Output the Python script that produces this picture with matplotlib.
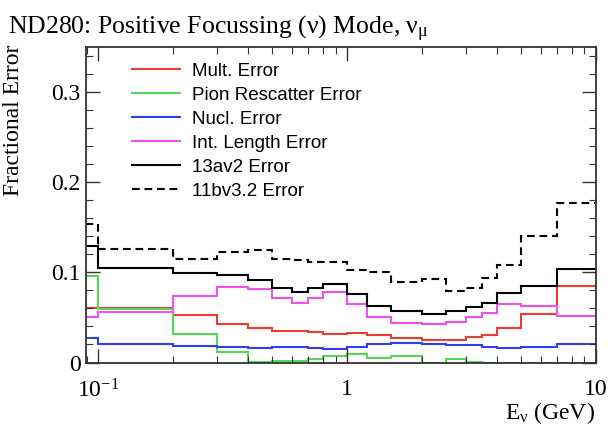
import numpy as np
import matplotlib
matplotlib.use("Agg")
from matplotlib import pyplot as plt
from matplotlib.ticker import FixedLocator, LogLocator, NullFormatter, FixedFormatter

# energy bin edges in GeV (first bin really starts at 0, cut off by the log axis)
edges = [0.05, 0.1, 0.2, 0.3, 0.4, 0.5, 0.6, 0.7, 0.8, 1.0, 1.2,
         1.5, 2.0, 2.5, 3.0, 3.5, 4.0, 5.0, 7.0, 10.0]

mult_err = [0.061, 0.061, 0.0524, 0.0431, 0.0387, 0.0354, 0.035, 0.0335, 0.032, 0.0328,
            0.0302, 0.0276, 0.0254, 0.025, 0.0281, 0.0309, 0.0383, 0.0539, 0.0854]
pion_err = [0.0955, 0.059, 0.0313, 0.0115, 0.0002, 0.0015, 0.0012, 0.0035, 0.0068, 0.0092,
            0.0054, 0.0076, 0.0, 0.0043, 0.001, 0.0, 0.0, 0.0, 0.0]
nucl_err = [0.0272, 0.0202, 0.0183, 0.0172, 0.0161, 0.0172, 0.0172, 0.0161, 0.0145, 0.0176,
            0.0209, 0.022, 0.0209, 0.0198, 0.0195, 0.0168, 0.0161, 0.0176, 0.0209]
intlen_err = [0.050, 0.0565, 0.0742, 0.0835, 0.0813, 0.072, 0.0665, 0.072, 0.0783, 0.065,
              0.0509, 0.0435, 0.0424, 0.0446, 0.0502, 0.0546, 0.0646, 0.0624, 0.052]
tot_13av2 = [0.1287, 0.1047, 0.0998, 0.0972, 0.0917, 0.0831, 0.078, 0.0831, 0.0872, 0.0757,
             0.0631, 0.0572, 0.0543, 0.0568, 0.0615, 0.066, 0.0776, 0.0848, 0.1032]
tot_11bv32 = [0.1535, 0.126, 0.1147, 0.1226, 0.1245, 0.1147, 0.1137, 0.111, 0.111, 0.1028,
              0.1, 0.0889, 0.0921, 0.0796, 0.0831, 0.0933, 0.108, 0.1407, 0.1769]

y_ticks = [0, 0.1, 0.2, 0.3]
y_ticklabels = ["0", "0.1", "0.2", "0.3"]
x_ticks = [0.1, 1, 10]
x_ticklabels = ["10$^{-1}$", "1", "10"]

plt.rcParams['mathtext.fontset'] = 'custom'
plt.rcParams['mathtext.rm'] = 'Liberation Serif'
plt.rcParams['mathtext.it'] = 'Liberation Serif:italic'

serif = 'Liberation Serif'
sans = 'Liberation Sans'

fig = plt.figure(figsize=(6.08, 4.26), dpi=100)
ax = fig.add_axes([0.1414, 0.149, 0.8386, 0.7407])

series = [
    (mult_err, '#f03c2e', '-', 'Mult. Error'),
    (pion_err, '#55d855', '-', 'Pion Rescatter Error'),
    (nucl_err, '#2e3ef0', '-', 'Nucl. Error'),
    (intlen_err, '#f050f0', '-', 'Int. Length Error'),
    (tot_13av2, 'black', '-', '13av2 Error'),
    (tot_11bv32, 'black', (0, (3.7, 2.3)), '11bv3.2 Error'),
]
for vals, col, ls, lab in series:
    ax.stairs(vals, edges, baseline=None, color=col, linestyle=ls, lw=1.5, label=lab)

ax.set_xscale('log')
ax.set_xlim(0.0895, 10)
ax.set_ylim(0, 0.35)

ax.xaxis.set_major_locator(FixedLocator(x_ticks))
ax.xaxis.set_major_formatter(FixedFormatter(x_ticklabels))
ax.xaxis.set_minor_locator(LogLocator(base=10, subs=np.arange(2, 10)))
ax.xaxis.set_minor_formatter(NullFormatter())
ax.yaxis.set_major_locator(FixedLocator(y_ticks))
ax.yaxis.set_major_formatter(FixedFormatter(y_ticklabels))
ax.yaxis.set_minor_locator(FixedLocator(np.arange(0, 0.35, 0.02)))

ax.tick_params(which='both', direction='in', top=True, right=True, color='#333333')
ax.tick_params(which='major', length=10, width=1.0)
ax.tick_params(which='minor', length=5, width=0.8)
ax.tick_params(axis='x', which='major', pad=12)
ax.tick_params(axis='y', which='major', pad=4)
for lbl in ax.get_xticklabels() + ax.get_yticklabels():
    lbl.set_fontfamily(serif)
    lbl.set_fontsize(17)
for sp in ax.spines.values():
    sp.set_linewidth(1.3)
    sp.set_color('#333333')

leg = ax.legend(loc='upper left', bbox_to_anchor=(0.075, 0.975), frameon=False,
                prop={'family': sans, 'size': 13.5}, handlelength=2.6,
                handletextpad=0.64, labelspacing=0.37, borderaxespad=0)

fig.text(8 / 608, 1 - 34 / 426, r"ND280: Positive Focussing (ν) Mode, ν$_{\mathrm{μ}}$",
         fontfamily=serif, fontsize=18.5, ha='left', va='baseline')
fig.text(14 / 608, 1 - 120 / 426, "Fractional Error", fontfamily=serif, fontsize=17,
         rotation=90, ha='center', va='center')
fig.text(595 / 608, 1 - 419 / 426, r"E$_{\mathrm{ν}}$ (GeV)", fontfamily=serif,
         fontsize=17, ha='right', va='baseline')

fig.savefig("out.png", dpi=100)
